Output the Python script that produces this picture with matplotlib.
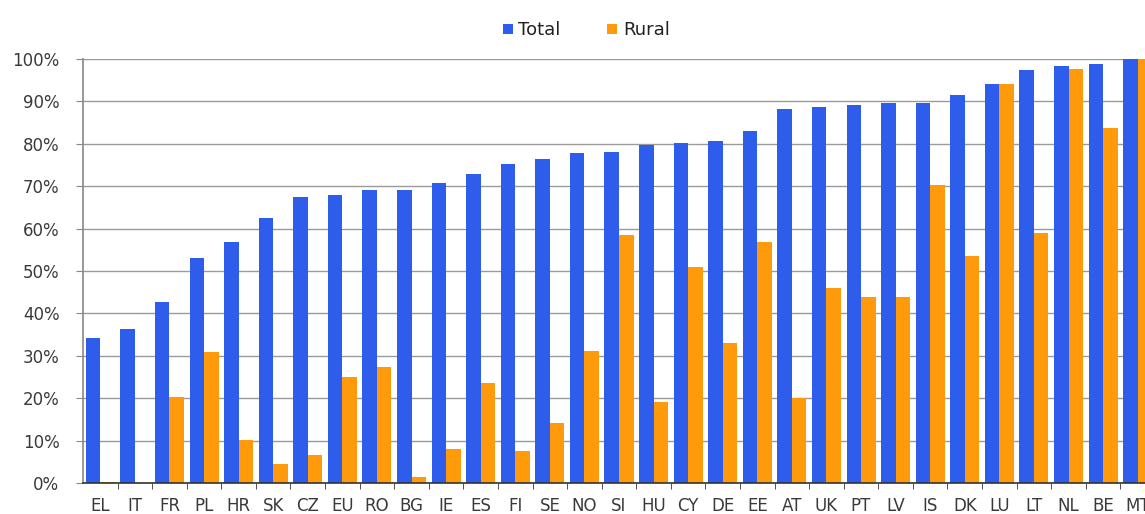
import matplotlib
matplotlib.use('Agg')
import matplotlib.pyplot as plt
from matplotlib.ticker import FixedLocator, PercentFormatter
import numpy as np

# Share of households covered, total vs rural (%)
countries = ['EL', 'IT', 'FR', 'PL', 'HR', 'SK', 'CZ', 'EU', 'RO', 'BG', 'IE', 'ES',
             'FI', 'SE', 'NO', 'SI', 'HU', 'CY', 'DE', 'EE', 'AT', 'UK', 'PT', 'LV',
             'IS', 'DK', 'LU', 'LT', 'NL', 'BE', 'MT']
total = [34.2, 36.3, 42.7, 53.1, 56.8, 62.6, 67.4, 67.9, 69.1, 69.2, 70.8, 72.9,
         75.2, 76.4, 77.8, 78.1, 79.6, 80.1, 80.6, 83.0, 88.2, 88.7, 89.2, 89.6,
         89.6, 91.6, 94.1, 97.4, 98.3, 98.8, 100.0]
rural = [0.3, 0.0, 20.2, 30.9, 10.1, 4.5, 6.6, 25.0, 27.4, 1.4, 8.0, 23.6,
         7.6, 14.1, 31.1, 58.4, 19.2, 51.0, 33.0, 56.9, 20.1, 46.0, 43.9, 43.8,
         70.3, 53.5, 94.1, 59.0, 97.6, 83.7, 100.0]

blue = '#2F5DEB'
orange = '#FF9A0A'

plt.rcParams['font.family'] = ['DejaVu Sans']

fig = plt.figure(figsize=(11.45, 5.14), dpi=100)
ax = fig.add_axes([0.0725, 0.0603, 0.9362, 0.8250])

x = np.arange(len(countries))
w = 0.42
ax.bar(x - w / 2, total, width=w, color=blue, label='Total', zorder=3)
ax.bar(x + w / 2, rural, width=w, color=orange, label='Rural', zorder=3)

ax.set_xlim(-0.5, len(countries) - 0.5)
ax.set_ylim(0, 100)
ax.yaxis.set_major_locator(FixedLocator(np.arange(0, 101, 10)))
ax.yaxis.set_major_formatter(PercentFormatter(decimals=0))
ax.grid(axis='y', color='#9a9a9a', linewidth=1.0, zorder=0)

# labels at the centres, tick marks between the groups
ax.set_xticks(x)
ax.set_xticklabels(countries)
ax.set_xticks(np.arange(len(countries)) + 0.5, minor=True)
ax.tick_params(axis='x', which='major', length=0, pad=10, labelsize=12, labelcolor='#3a3a3a')
ax.tick_params(axis='x', which='minor', length=4, color='#333333', direction='out')
ax.tick_params(axis='y', length=5, color='#888888', labelsize=12, labelcolor='#3a3a3a', pad=12)

for side in ['top', 'right']:
    ax.spines[side].set_visible(False)
ax.spines['left'].set_color('#888888')
ax.spines['left'].set_linewidth(1.2)
ax.spines['bottom'].set_color('#333333')
ax.spines['bottom'].set_linewidth(1.2)
ax.spines['bottom'].set_zorder(4)

fig.legend(loc='upper center', bbox_to_anchor=(0.512, 0.99), ncol=2, frameon=False,
           fontsize=13, handlelength=0.55, handleheight=0.55, handletextpad=0.3,
           columnspacing=2.6, labelcolor='#222222')

fig.savefig('out.png', dpi=100)
